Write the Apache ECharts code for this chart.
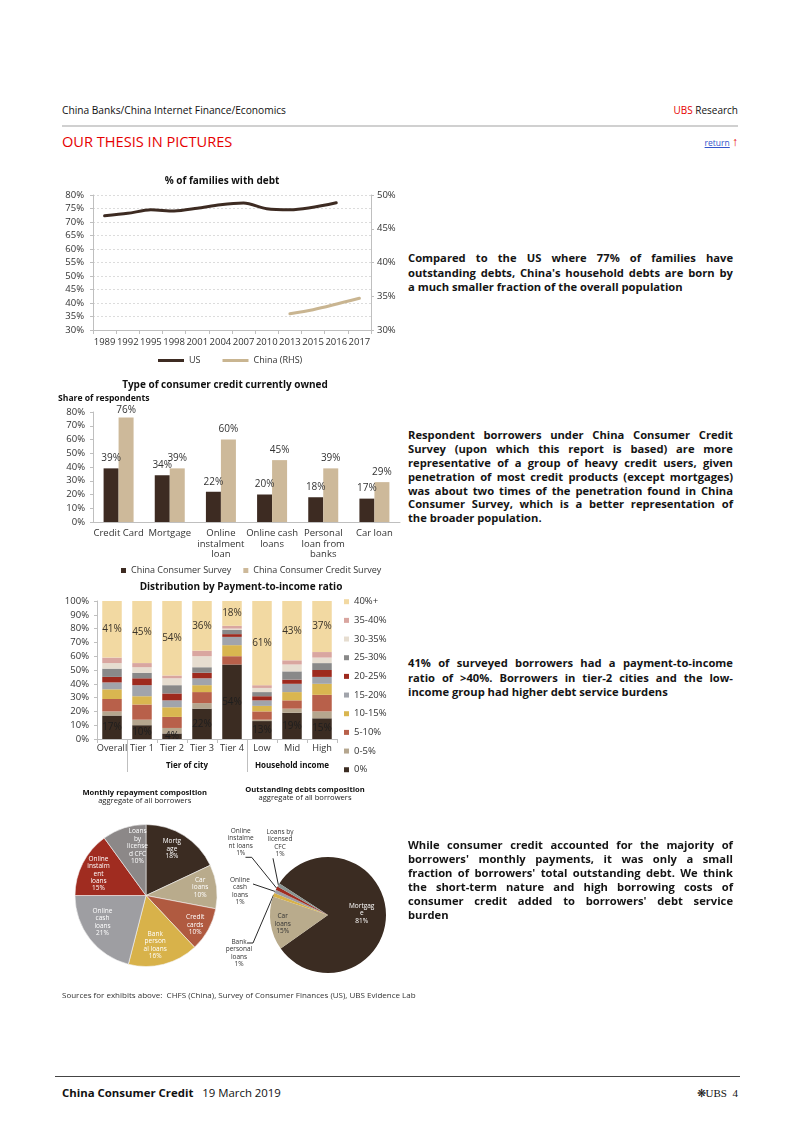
<!DOCTYPE html>
<html>
<head>
<meta charset="utf-8">
<title>China Consumer Credit - Our thesis in pictures</title>
<script src="https://cdn.jsdelivr.net/npm/echarts@6.0.0/dist/echarts.min.js"></script>
<style>
  html, body { margin:0; padding:0; background:#fff; }
  #page { position:relative; width:802px; height:1133px; overflow:hidden; font-family:'Open Sans', sans-serif; color:#111; }
  .t { position:absolute; white-space:nowrap; }
  .para { position:absolute; left:408px; width:325px; font-weight:bold; font-size:11.2px; color:#141414; }
  .ln { display:flex; justify-content:space-between; white-space:nowrap; }
  .ch { position:absolute; }
</style>
</head>
<body>
<div id="page">
  <div class="t" style="left:62px; top:103px; font-size:10.2px; line-height:14px; color:#111;">China Banks/China Internet Finance/Economics</div>
  <div class="t" style="right:64px; top:103px; font-size:10px; line-height:14px; color:#111;"><span style="color:#e60000;">UBS</span> Research</div>
  <div style="position:absolute; left:62px; top:125px; width:676px; height:2px; background:#d0d0d0;"></div>
  <div class="t" style="left:62px; top:131px; font-size:14.6px; line-height:20px; color:#e60000;">OUR THESIS IN PICTURES</div>
  <div class="t" style="right:64px; top:135px; font-size:8.5px; line-height:14px;"><span style="color:#3355cc; text-decoration:underline;">return</span> <span style="color:#e60000; font-size:12px;">&#8593;</span></div>

  <div id="c1" class="ch" style="left:55px; top:165px; width:350px; height:205px;"></div>
  <div id="c2" class="ch" style="left:55px; top:375px; width:352px; height:200px;"></div>
  <div id="c3" class="ch" style="left:55px; top:578px; width:345px; height:230px;"></div>
  <div id="c4" class="ch" style="left:55px; top:780px; width:350px; height:200px;"></div>

  <div class="t" style="left:62px; top:989px; font-size:8px; line-height:12px; color:#333;">Sources for exhibits above:&nbsp; CHFS (China), Survey of Consumer Finances (US), UBS Evidence Lab</div>
  <div style="position:absolute; left:55px; top:1076px; width:685px; height:1px; background:#444;"></div>
  <div class="t" style="left:62px; top:1085px; font-size:11.4px; line-height:16px; color:#111;"><b>China Consumer Credit</b>&nbsp;&nbsp; 19 March 2019</div>
  <div class="t" style="right:64px; top:1085px; font-size:11px; line-height:16px; color:#111; font-family:'Liberation Serif', serif;">&#10059;UBS&nbsp; 4</div>
</div>

<script>
// ---------------- data ----------------
var years = ['1989','1992','1995','1998','2001','2004','2007','2010','2013','2015','2016','2017'];
var usFamiliesWithDebt    = [72.3, 73.2, 74.5, 74.1, 75.1, 76.4, 77.0, 74.9, 74.5, null, 77.1, null];
var chinaFamiliesWithDebt = [null, null, null, null, null, null, null, null, 32.4, 33.0, null, 34.7];

var creditTypes = ['Credit Card', 'Mortgage', 'Online\ninstalment\nloan', 'Online cash\nloans', 'Personal\nloan from\nbanks', 'Car loan'];
var chinaConsumerSurvey       = [39, 34, 22, 20, 18, 17];
var chinaConsumerCreditSurvey = [76, 39, 60, 45, 39, 29];

var ptiGroups   = ['Overall', 'Tier 1', 'Tier 2', 'Tier 3', 'Tier 4', 'Low', 'Mid', 'High'];
var ptiBrackets = ['0%', '0-5%', '5-10%', '10-15%', '15-20%', '20-25%', '25-30%', '30-35%', '35-40%', '40%+'];
var pti0     = [17, 10,  4, 22, 54, 13, 19, 15];
var pti0to5  = [ 3,  4,  4,  4,  0,  1,  3,  5];
var pti5to10 = [ 9, 11,  8,  8,  6,  6,  6, 12];
var pti10to15= [ 7,  6,  7,  5,  8,  4,  6,  8];
var pti15to20= [ 5,  8,  5,  5,  6,  4,  6,  5];
var pti20to25= [ 4,  5,  5,  4,  2,  3,  3,  5];
var pti25to30= [ 6,  4,  6,  4,  3,  3,  6,  5];
var pti30to35= [ 4,  4,  5,  8,  1,  3,  5,  4];
var pti35to40= [ 4,  3,  2,  4,  2,  2,  3,  4];
var pti40plus= [41, 45, 54, 36, 18, 61, 43, 37];
var groupLabels = ['Tier of city', 'Household income'];

var monthlyNames  = ['Mortgage', 'Car loans', 'Credit cards', 'Bank personal loans', 'Online cash loans', 'Online instalment loans', 'Loans by licensed CFC'];
var monthlyShares = [18, 10, 10, 16, 21, 15, 10];
var monthlyLabelText = ['Mortg\nage', 'Car\nloans', 'Credit\ncards', 'Bank\nperson\nal loans', 'Online\ncash\nloans', 'Online\ninstalm\nent\nloans', 'Loans\nby\nlicense\nd CFC'];

var debtNames  = ['Mortgage', 'Car loans', 'Bank personal loans', 'Online cash loans', 'Online instalment loans', 'Loans by licensed CFC'];
var debtShares = [81, 15, 1, 1, 1, 1];
var debtLabelText = ['Mortgag\ne', 'Car\nloans', 'Bank\npersonal\nloans', 'Online\ncash\nloans', 'Online\ninstalme\nnt loans', 'Loans by\nlicensed\nCFC'];

// ---------------- styles / layout ----------------
var FONT = 'Open Sans';
var DARK = '#3d2b22', TAN = '#cdb99a';
var bracketColors = ['#3b2c22', '#b5a68e', '#b8604a', '#d9b650', '#a1a4ab', '#9e2a1e', '#898989', '#e6ddd0', '#d9a6a0', '#f2d9a2'];
var monthlyColors = ['#3b2c22', '#b9ab8c', '#b05a40', '#d8b24a', '#9e9ea2', '#a02c20', '#8c8888'];
var debtColors    = ['#3b2c22', '#b9ab8c', '#d8b24a', '#9e9ea2', '#a02c20', '#8a9693'];
var AXIS = '#bfbfbf', LBL = '#333';

function gtext(x, y, text, size, weight, align, color) {
  return { type: 'text', x: x, y: y, silent: true, z: 10,
    style: { text: text, fill: color || '#111', fontFamily: FONT, fontSize: size, fontWeight: weight || 'normal',
      textAlign: align || 'center', align: align || 'center', textVerticalAlign: 'middle', verticalAlign: 'middle' } };
}

// ---------------- paragraphs ----------------
var page = document.getElementById('page');
function para(top, lh, lines) {
  var d = document.createElement('div'); d.className = 'para'; d.style.top = top + 'px';
  lines.forEach(function (t, i) {
    var l = document.createElement('div');
    l.style.height = lh + 'px'; l.style.lineHeight = lh + 'px';
    if (i < lines.length - 1) {
      l.className = 'ln';
      t.split(' ').forEach(function (w) { var s = document.createElement('span'); s.textContent = w; l.appendChild(s); });
    } else { l.style.whiteSpace = 'nowrap'; l.textContent = t; }
    d.appendChild(l);
  });
  page.appendChild(d);
}
para(251, 14.5, ['Compared to the US where 77% of families have', 'outstanding debts, China\'s household debts are born by', 'a much smaller fraction of the overall population']);
para(428, 13.9, ['Respondent borrowers under China Consumer Credit', 'Survey (upon which this report is based) are more', 'representative of a group of heavy credit users, given', 'penetration of most credit products (except mortgages)', 'was about two times of the penetration found in China', 'Consumer Survey, which is a better representation of', 'the broader population.']);
para(656, 14.5, ['41% of surveyed borrowers had a payment-to-income', 'ratio of >40%. Borrowers in tier-2 cities and the low-', 'income group had higher debt service burdens']);
para(838, 14, ['While consumer credit accounted for the majority of', 'borrowers\' monthly payments, it was only a small', 'fraction of borrowers\' total outstanding debt. We think', 'the short-term nature and high borrowing costs of', 'consumer credit added to borrowers\' debt service', 'burden']);

// ---------------- chart 1: line ----------------
var c1 = echarts.init(document.getElementById('c1'));
c1.setOption({
  animation: false,
  textStyle: { fontFamily: FONT },
  graphic: [gtext(167, 16, '% of families with debt', 10, 'bold')],
  grid: { left: 38, right: 34, top: 30, bottom: 40, outerBoundsMode: 'none' },
  legend: { left: 98, top: 186, itemWidth: 26, itemHeight: 3, itemGap: 22,
    textStyle: { fontSize: 9, color: LBL, fontFamily: FONT },
    data: [{ name: 'US', icon: 'rect' }, { name: 'China (RHS)', icon: 'rect' }] },
  xAxis: { type: 'category', data: years, boundaryGap: true,
    axisLine: { lineStyle: { color: AXIS } }, axisTick: { show: true, length: 4, lineStyle: { color: AXIS } },
    axisLabel: { interval: 0, fontSize: 9.5, color: LBL, margin: 7, fontFamily: FONT } },
  yAxis: [
    { type: 'value', min: 30, max: 80, interval: 5,
      axisLabel: { formatter: '{value}%', fontSize: 9.5, color: LBL, margin: 9, fontFamily: FONT },
      axisLine: { show: true, lineStyle: { color: AXIS } }, axisTick: { show: true, length: 3, lineStyle: { color: AXIS } },
      splitLine: { show: true, lineStyle: { color: '#dcdcdc', type: [2, 2] } } },
    { type: 'value', min: 30, max: 50, interval: 5, position: 'right',
      axisLabel: { formatter: '{value}%', fontSize: 9.5, color: LBL, margin: 6, fontFamily: FONT },
      axisLine: { show: true, lineStyle: { color: AXIS } }, axisTick: { show: true, length: 3, lineStyle: { color: AXIS } },
      splitLine: { show: false } }
  ],
  series: [
    { name: 'US', type: 'line', data: usFamiliesWithDebt, smooth: 0.3, connectNulls: true, showSymbol: false,
      lineStyle: { color: DARK, width: 3, cap: 'round' }, itemStyle: { color: DARK } },
    { name: 'China (RHS)', type: 'line', yAxisIndex: 1, data: chinaFamiliesWithDebt, smooth: 0.3, connectNulls: true, showSymbol: false,
      lineStyle: { color: '#c9b591', width: 3, cap: 'round' }, itemStyle: { color: '#c9b591' } }
  ]
});

// ---------------- chart 2: grouped bars ----------------
var c2 = echarts.init(document.getElementById('c2'));
var barLabel = { show: true, position: 'top', distance: 5, formatter: '{c}%', fontSize: 10, color: LBL, fontFamily: FONT };
c2.setOption({
  animation: false,
  textStyle: { fontFamily: FONT },
  graphic: [gtext(170, 10, 'Type of consumer credit currently owned', 10, 'bold'),
            gtext(3, 24, 'Share of respondents', 8.6, 'bold', 'left')],
  grid: { left: 38, right: 7, top: 37, bottom: 53, outerBoundsMode: 'none' },
  legend: { left: 61, top: 186, itemWidth: 5, itemHeight: 5, itemGap: 12, icon: 'rect',
    textStyle: { fontSize: 9, color: LBL, fontFamily: FONT } },
  xAxis: { type: 'category', data: creditTypes,
    axisLine: { lineStyle: { color: AXIS } }, axisTick: { show: false },
    axisLabel: { interval: 0, fontSize: 9.5, lineHeight: 10.7, color: LBL, margin: 6, fontFamily: FONT } },
  yAxis: { type: 'value', min: 0, max: 80, interval: 10,
    axisLabel: { formatter: '{value}%', fontSize: 9.5, color: LBL, margin: 8, fontFamily: FONT },
    axisLine: { show: true, lineStyle: { color: AXIS } }, axisTick: { show: true, length: 3, lineStyle: { color: AXIS } },
    splitLine: { show: false } },
  // keep value labels inside the plot area, as in the original
  labelLayout: function (p) {
    var r = p.labelRect;
    if (r && r.y < 30) return { dy: 30 - r.y };
    return {};
  },
  series: [
    { name: 'China Consumer Survey', type: 'bar', data: chinaConsumerSurvey, barWidth: 15, barGap: '0%', itemStyle: { color: DARK }, label: barLabel,
      labelLayout: function (p) { var r = p.labelRect; return (r && r.y < 30) ? { dy: 30 - r.y } : {}; } },
    { name: 'China Consumer Credit Survey', type: 'bar', data: chinaConsumerCreditSurvey, barWidth: 15, barGap: '0%', itemStyle: { color: TAN }, label: barLabel,
      labelLayout: function (p) { var r = p.labelRect; return (r && r.y < 30) ? { dy: 30 - r.y } : {}; } }
  ]
});

// ---------------- chart 3: stacked distribution ----------------
var c3 = echarts.init(document.getElementById('c3'));
var ptiSeriesData = [pti0, pti0to5, pti5to10, pti10to15, pti15to20, pti20to25, pti25to30, pti30to35, pti35to40, pti40plus];
var ptiSeries = ptiSeriesData.map(function (arr, i) {
  var showLbl = (i === 0 || i === ptiSeriesData.length - 1);
  return { name: ptiBrackets[i], type: 'bar', stack: 'pti', data: arr, barWidth: 19.5,
    itemStyle: { color: bracketColors[i] },
    label: { show: showLbl, position: 'inside', formatter: '{c}%', fontSize: 10, fontFamily: FONT, color: i === 0 ? '#1e1e1e' : '#3a332a' } };
});
c3.setOption({
  animation: false,
  textStyle: { fontFamily: FONT },
  graphic: [gtext(186, 9, 'Distribution by Payment-to-income ratio', 10, 'bold')],
  grid: { left: 42, right: 63, top: 23, bottom: 69, outerBoundsMode: 'none' },
  legend: { orient: 'vertical', left: 284, top: 13.7, itemWidth: 5, itemHeight: 5, itemGap: 8.67, icon: 'rect',
    textStyle: { fontSize: 9.5, color: LBL, fontFamily: FONT },
    data: ptiBrackets.slice().reverse() },
  xAxis: [
    { type: 'category', data: ptiGroups,
      axisLine: { lineStyle: { color: AXIS } }, axisTick: { show: true, length: 4, lineStyle: { color: AXIS } },
      axisLabel: { interval: 0, fontSize: 9.2, color: LBL, margin: 5, fontFamily: FONT } },
    { type: 'value', position: 'bottom', min: 0, max: 8,
      axisLine: { show: false }, splitLine: { show: false },
      axisTick: { show: true, customValues: [1, 5], length: 33, lineStyle: { color: AXIS } },
      axisLabel: { customValues: [3, 6.5], formatter: function (v) { return v === 3 ? groupLabels[0] : groupLabels[1]; },
        fontSize: 8, fontWeight: 'bold', color: '#111', margin: 23, fontFamily: FONT } }
  ],
  yAxis: { type: 'value', min: 0, max: 100, interval: 10,
    axisLabel: { formatter: '{value}%', fontSize: 9.5, color: LBL, margin: 8, fontFamily: FONT },
    axisLine: { show: true, lineStyle: { color: AXIS } }, axisTick: { show: true, length: 3, lineStyle: { color: AXIS } },
    splitLine: { show: false } },
  series: ptiSeries
});

// ---------------- chart 4: pies ----------------
var c4 = echarts.init(document.getElementById('c4'));
var P1 = { cx: 91, cy: 115.5, r: 71 };
var P2 = { cx: 273, cy: 135, r: 58 };
// label centres relative to the pie centre (label placement only)
var monthlyLabelOffset = [[25.9, -46.5], [54.2, -8.2], [49.2, 29.5], [9.2, 49.8], [-43.5, 26.5], [-47.5, -21.8], [-8.5, -49.2]];
var debtInsideOffset = { 0: [33.7, -1.7], 1: [-45.3, 9] };
// label centre and leader bend points for the tiny slices of the outstanding-debt pie
var debtOuterLabels = {
  2: { x: 184, y: 173, bend: [[198, 163], [192, 163]] },
  3: { x: 185, y: 111, bend: [[198, 104]] },
  4: { x: 185.7, y: 62, bend: [[196.7, 77.3], [190.5, 77.3]] },
  5: { x: 225, y: 63, bend: [[218, 78.3]] }
};

function edgePoint(shares, idx, startAngle, P) {
  var total = shares.reduce(function (a, b) { return a + b; }, 0), cum = 0;
  for (var k = 0; k < idx; k++) cum += shares[k];
  var mid = startAngle - (cum + shares[idx] / 2) / total * 360;
  var rad = mid * Math.PI / 180;
  return [P.cx + P.r * Math.cos(rad), P.cy - P.r * Math.sin(rad)];
}

c4.setOption({
  animation: false,
  textStyle: { fontFamily: FONT },
  graphic: [
    gtext(89.7, 12.7, 'Monthly repayment composition', 7.6, 'bold'),
    gtext(89.7, 20.7, 'aggregate of all borrowers', 7.6, 'normal', 'center', '#222'),
    gtext(250, 10, 'Outstanding debts composition', 7.6, 'bold'),
    gtext(250, 17.5, 'aggregate of all borrowers', 7.6, 'normal', 'center', '#222')
  ],
  series: [
    { type: 'pie', center: [P1.cx, P1.cy], radius: P1.r, startAngle: 90, clockwise: true, silent: true,
      emphasis: { disabled: true },
      itemStyle: { borderColor: '#f4f4f4', borderWidth: 0.6 },
      data: monthlyNames.map(function (n, i) { return { name: n, value: monthlyShares[i], itemStyle: { color: monthlyColors[i] } }; }),
      label: { show: true, position: 'inside', color: '#fff', fontSize: 6.5, lineHeight: 7.4, fontFamily: FONT,
        formatter: function (p) { return monthlyLabelText[p.dataIndex] + '\n' + p.value + '%'; } },
      labelLine: { show: false },
      labelLayout: function (p) {
        var o = monthlyLabelOffset[p.dataIndex];
        return { x: P1.cx + o[0], y: P1.cy + o[1], align: 'center', verticalAlign: 'middle' };
      } },
    { type: 'pie', center: [P2.cx, P2.cy], radius: P2.r, startAngle: 147, clockwise: true, silent: true,
      emphasis: { disabled: true },
      avoidLabelOverlap: false,
      data: debtNames.map(function (n, i) {
        var d = { name: n, value: debtShares[i], itemStyle: { color: debtColors[i] } };
        if (i >= 2) {
          d.label = { position: 'outside', color: '#333' };
          d.labelLine = { show: true, length: 8, length2: 6, lineStyle: { color: '#111', width: 0.9 } };
        } else if (i === 1) {
          d.label = { color: '#333' };
        }
        return d;
      }),
      label: { show: true, position: 'inside', color: '#fff', fontSize: 6.5, lineHeight: 7.4, fontFamily: FONT,
        formatter: function (p) { return debtLabelText[p.dataIndex] + '\n' + p.value + '%'; } },
      labelLine: { show: false },
      labelLayout: function (p) {
        var i = p.dataIndex;
        var io = debtInsideOffset[i];
        if (io) return { x: P2.cx + io[0], y: P2.cy + io[1], align: 'center', verticalAlign: 'middle' };
        var L = debtOuterLabels[i];
        if (!L) return {};
        var start = edgePoint(debtShares, i, 147, P2);
        return { x: L.x, y: L.y, align: 'center', verticalAlign: 'middle',
          labelLinePoints: [start].concat(L.bend) };
      } }
  ]
});
</script>
</body>
</html>
